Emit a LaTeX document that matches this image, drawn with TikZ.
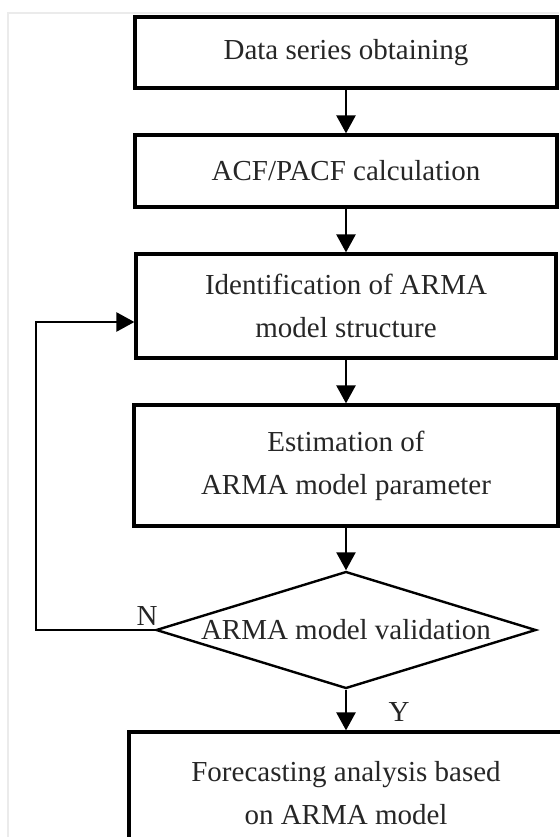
\documentclass[tikz,border=0pt]{standalone}
\usepackage{fontspec}
\setmainfont{Liberation Serif}
\usetikzlibrary{shapes.geometric,arrows.meta}
\begin{document}
\begin{tikzpicture}[x=1pt,y=-1pt,
    box/.style={draw,line width=3.2pt,inner sep=0pt,align=center},
    arr/.style={draw,line width=2.4pt,-{Triangle[width=19pt,length=18pt]}}]

      \useasboundingbox (0,0) rectangle (559,837);
      \draw[black!8,line width=1.5pt] (8,837) |- (559,13);

      \begin{scope}[every node/.style={font=\fontsize{29}{43}\selectfont,text=black!85}]
        \node[box,minimum width=422pt,minimum height=71pt]  (1) at (346,52.5)  {Data series obtaining};
        \node[box,minimum width=422pt,minimum height=72pt]  (2) at (346,171)   {ACF/PACF calculation};
        \node[box,minimum width=420pt,minimum height=104pt] (3) at (346,306)   {Identification of ARMA\\model structure};
        \node[box,minimum width=424pt,minimum height=121pt] (4) at (346,465.5) {Estimation of\\ARMA model parameter};
        \node[box,minimum width=434pt,minimum height=123pt] (5) at (346,793.5) {Forecasting analysis based\\on ARMA model};
        \node[draw,diamond,line width=2.4pt,inner sep=0pt,
              minimum width=380pt,minimum height=117pt]      (6) at (346,630)   {\makebox[0pt]{ARMA model validation}};
        \node (7) at (147,616) {N};
        \node (8) at (399,712) {Y};
      \end{scope}

      \coordinate (9) at (36,630);

      \begin{scope}[every edge/.style={arr}]
        \path (1) edge (2);
        \path (2) edge (3);
        \path (3) edge (4);
        \path (4) edge (6);
        \path (6) edge (5);
      \end{scope}

      \draw[arr] (6.west) -- (9) |- ([yshift=-16pt]3.west);

    \end{tikzpicture}
\end{document}
